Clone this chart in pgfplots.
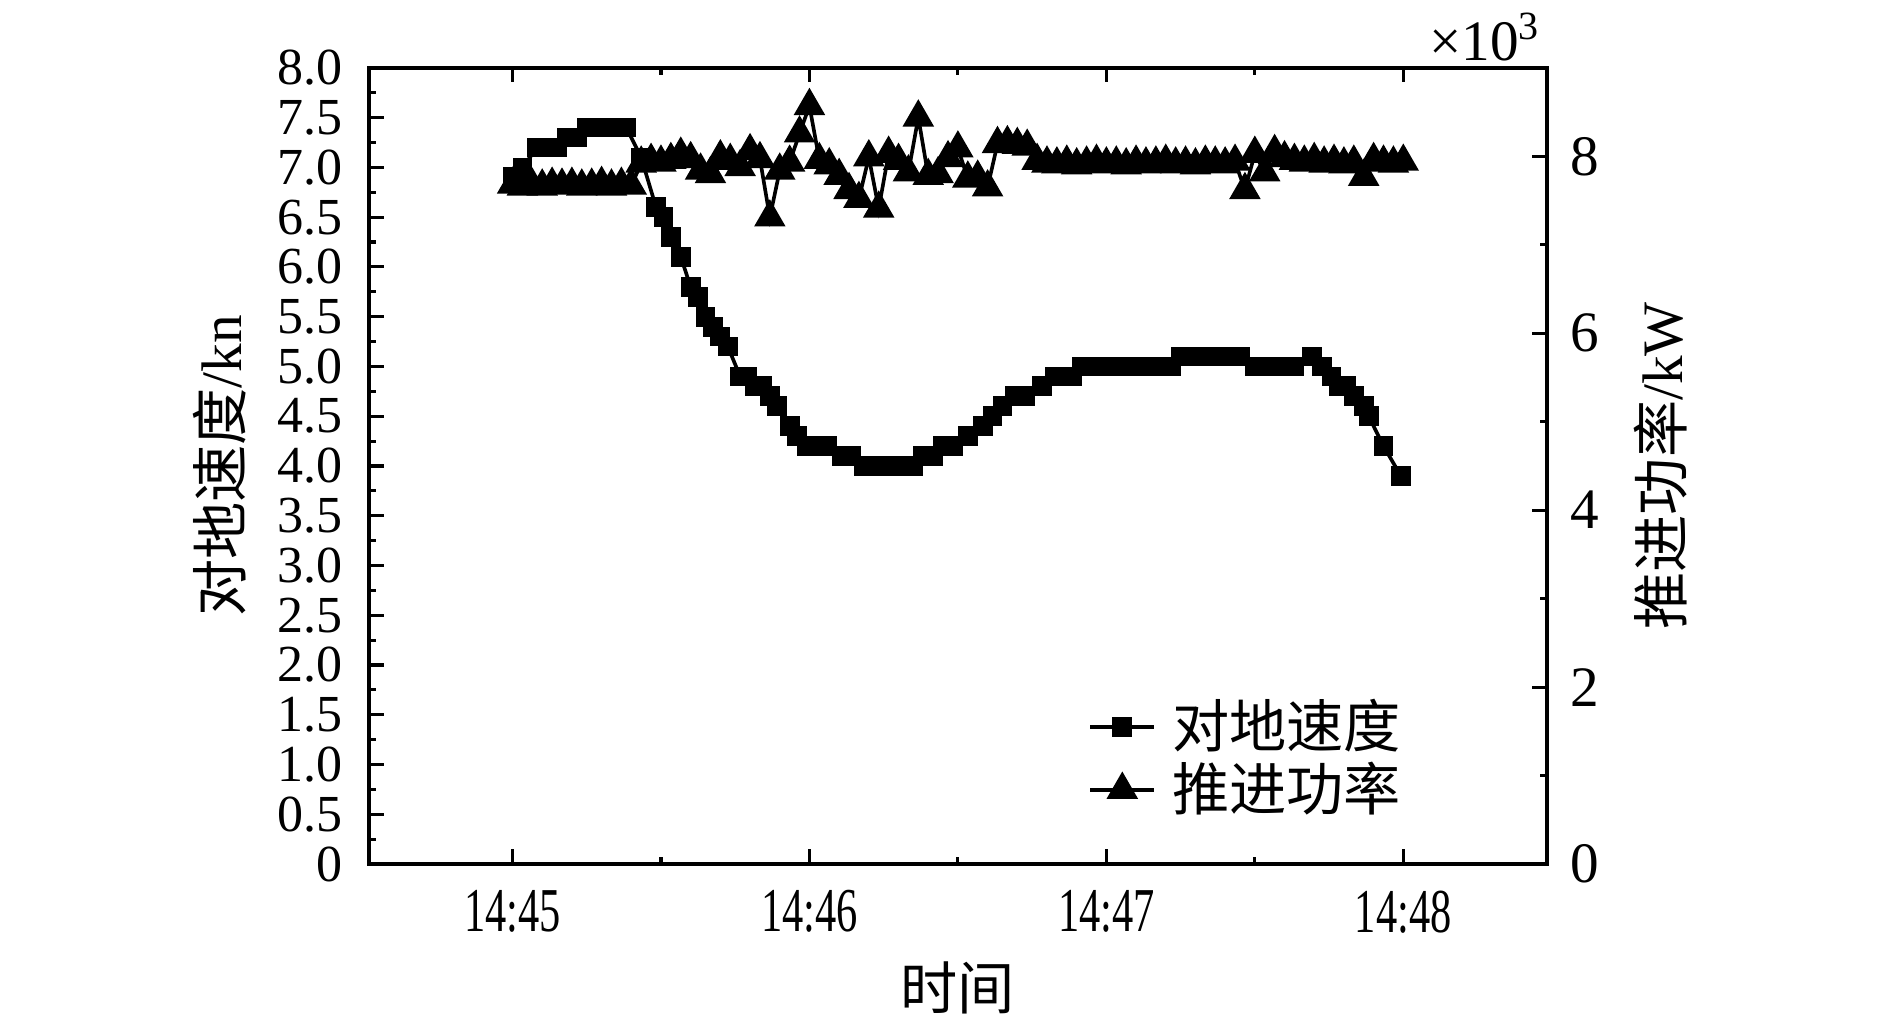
\documentclass[border=0pt]{standalone}
\usepackage{fontspec}
\setmainfont{Liberation Serif}
\newfontfamily\cjk{Noto Sans CJK SC}
\usepackage{graphicx}
\usepackage{pgfplots}
\usepackage{pgfplotstable}
\pgfplotsset{compat=1.18}

\pgfplotstableread{
t v
0 6.9
2 7.0
5 7.2
7 7.2
9 7.2
11 7.3
13 7.3
15 7.4
17 7.4
19 7.4
21 7.4
23 7.4
26 7.1
29 6.6
30.5 6.5
32 6.3
34 6.1
36 5.8
37.5 5.7
39 5.5
40.5 5.4
42 5.3
43.5 5.2
46 4.9
47.5 4.9
49 4.8
50.5 4.8
52 4.7
53.5 4.6
56 4.4
57.5 4.3
59.5 4.2
61.5 4.2
63.5 4.2
66.5 4.1
68.5 4.1
71 4.0
73 4.0
75 4.0
77 4.0
79 4.0
81 4.0
83 4.1
85 4.1
87 4.2
89 4.2
92 4.3
95 4.4
97 4.5
99 4.6
101.5 4.7
103.5 4.7
107 4.8
109.5 4.9
111.5 4.9
113 4.9
115 5.0
117 5.0
119 5.0
121 5.0
123 5.0
125 5.0
127 5.0
129 5.0
131 5.0
133 5.0
135 5.1
137 5.1
139 5.1
141 5.1
143 5.1
145 5.1
147 5.1
150 5.0
152 5.0
154 5.0
156 5.0
158 5.0
161.5 5.1
163.5 5.0
165.5 4.9
167 4.8
168.5 4.8
170 4.7
172 4.6
173 4.5
176 4.2
179.5 3.9
}\speed

\pgfplotstableread{
t p
0 7680
2 7660
4 7670
6 7660
8 7680
10 7670
12 7680
14 7660
16 7670
18 7690
20 7660
22 7680
24 7670
26 7920
28 7950
30 7930
32 7960
34 8020
36 7970
38 7840
40 7800
42 7990
44 7950
46 7880
48 8060
50 7970
52 7310
54 7840
56 7930
58 8260
60 8570
62 7960
64 7900
66 7780
68 7620
70 7520
72 7990
74 7410
76 8030
78 7950
80 7820
82 8440
84 7780
86 7800
88 7980
90 8090
92 7750
94 7760
96 7650
98 8140
100 8150
102 8130
104 8110
106 7950
108 7920
110 7910
112 7930
114 7900
116 7920
118 7940
120 7910
122 7920
124 7900
126 7930
128 7910
130 7920
132 7940
134 7910
136 7920
138 7900
140 7930
142 7920
144 7910
146 7940
148 7620
150 8030
152 7820
154 8050
156 7980
158 7950
160 7930
162 7960
164 7920
166 7940
168 7910
170 7930
172 7770
174 7960
176 7930
178 7920
180 7940
}\power

\begin{document}
\begin{tikzpicture}
\path[use as bounding box] (-70.96pt,-31.54pt) rectangle (292.5pt,166.15pt);
\pgfplotsset{
  common/.style={
    scale only axis, width=226.5pt, height=153.1pt,
    at={(0,0)}, anchor=south west,
    xmin=-29, xmax=209,
    axis line style={line width=0.8pt},
    tick style={line width=0.6pt, black},
    major tick length=2.8pt, minor tick length=1.4pt,
    tick align=inside,
  },
  spd/.style={black, line width=0.7pt, mark=square*, mark size=1.7pt, mark options={solid, line width=0.4pt}},
  pwr/.style={black, line width=0.7pt, mark=triangle*, mark size=3.1pt, mark options={solid, line width=0.4pt}},
}
\begin{axis}[common,
  ymin=0, ymax=8,
  ytick={0,0.5,1,1.5,2,2.5,3,3.5,4,4.5,5,5.5,6,6.5,7,7.5,8},
  yticklabels={0,0.5,1.0,1.5,2.0,2.5,3.0,3.5,4.0,4.5,5.0,5.5,6.0,6.5,7.0,7.5,8.0},
  minor ytick={0.25,0.75,1.25,1.75,2.25,2.75,3.25,3.75,4.25,4.75,5.25,5.75,6.25,6.75,7.25,7.75},
  ytick pos=left,
  xtick={0,60,120,180},
  minor xtick={30,90,150},
  xticklabels={\scalebox{0.68}[1]{14:45},\scalebox{0.68}[1]{14:46},\scalebox{0.68}[1]{14:47},\scalebox{0.68}[1]{14:48}},
  xtick pos=both,
  yticklabel style={font=\fontsize{10}{12}\selectfont, xshift=-1.6pt},
  xticklabel style={font=\fontsize{12}{14}\selectfont, yshift=-1.6pt},
  ylabel={{\cjk 对地速度}/kn},
  ylabel style={at={(axis description cs:-0.1265,0.5)}, anchor=center, font=\fontsize{11}{13}\selectfont},
  xlabel={{\cjk 时间}},
  xlabel style={at={(axis description cs:0.5,-0.1555)}, anchor=center, font=\fontsize{11}{13}\selectfont},
]
\addplot[spd] table[x=t, y=v] {\speed};
\end{axis}
\begin{axis}[common,
  ymin=0, ymax=9000,
  axis y line*=right, axis x line=none,
  ytick={0,2000,4000,6000,8000},
  yticklabels={0,2,4,6,8},
  minor ytick={1000,3000,5000,7000},
  scaled y ticks=false,
  yticklabel style={font=\fontsize{11}{13}\selectfont, xshift=1.1pt},
  ylabel={{\cjk 推进功率}/kW},
  ylabel style={at={(axis description cs:1.0968,0.5)}, anchor=center, font=\fontsize{11}{13}\selectfont},
  legend style={at={(rel axis cs:0.610,0.1325)}, anchor=west, draw=none, fill=none, inner sep=0pt,
    font=\fontsize{11}{13}\selectfont, nodes={inner sep=0.6pt},
    /tikz/every odd column/.append style={column sep=2.5pt}},
  legend cell align=left,
  legend image code/.code={\draw[mark repeat=2,mark phase=2,#1] plot coordinates {(0pt,0pt) (6.15pt,0pt) (12.3pt,0pt)};},
]
\addlegendimage{spd}
\addlegendentry{{\cjk 对地速度}}
\addplot[pwr] table[x=t, y=p] {\power};
\addlegendentry{{\cjk 推进功率}}
\end{axis}
\node[anchor=south east, inner sep=0pt, font=\fontsize{11}{13}\selectfont] at ([xshift=-0.8pt,yshift=1.2pt]current axis.north east) {×10\textsuperscript{3}};
\end{tikzpicture}
\end{document}
